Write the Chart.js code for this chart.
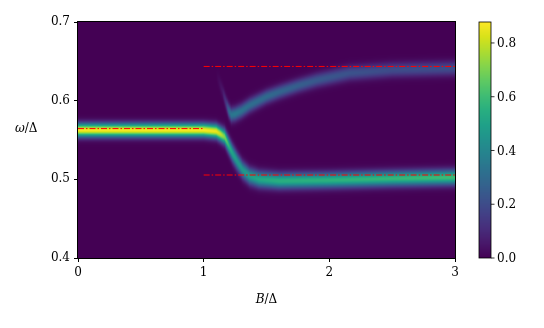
<!DOCTYPE html>
<html>
<head>
<meta charset="utf-8">
<script src="https://cdn.jsdelivr.net/npm/chart.js@4"></script>
<style>
  html, body { margin: 0; padding: 0; background: #fff; }
  #wrap { width: 544px; height: 328px; }
</style>
</head>
<body>
<div id="wrap"><canvas id="chart" width="544" height="328"></canvas></div>
<script>
// ridge of the lower (bright) branch: B/Delta, omega/Delta, peak height, width
const lowerB = [0, 1.0, 1.1, 1.13, 1.167, 1.206, 1.23, 1.27, 1.31, 1.365, 1.44, 1.6, 2.0, 2.5, 3.0]
const lowerW = [0.5625, 0.5625, 0.561, 0.558, 0.554, 0.541, 0.533, 0.522, 0.512, 0.504, 0.5, 0.498, 0.499, 0.501, 0.5025]
const lowerAmp = [0.87, 0.87, 0.85, 0.8, 0.7, 0.55, 0.5, 0.46, 0.46, 0.48, 0.52, 0.55, 0.56, 0.58, 0.6]
const lowerSig = [0.0058, 0.0058, 0.006, 0.0062, 0.0066, 0.0072, 0.0074, 0.0074, 0.0072, 0.007, 0.0068, 0.0066, 0.0065, 0.0065, 0.0065]

// ridge of the upper (faint) branch
const upperB = [1.1, 1.12, 1.15, 1.18, 1.2, 1.22, 1.25, 1.3, 1.365, 1.5, 1.6, 1.75, 1.9, 2.16, 2.5, 3.0]
const upperW = [0.632, 0.625, 0.612, 0.596, 0.587, 0.582, 0.583, 0.587, 0.594, 0.605, 0.611, 0.619, 0.626, 0.635, 0.639, 0.641]
const upperAmp = [0, 0.02, 0.05, 0.14, 0.28, 0.34, 0.35, 0.33, 0.31, 0.3, 0.28, 0.26, 0.24, 0.22, 0.2, 0.2]
const upperSig = [0.006, 0.006, 0.006, 0.006, 0.006, 0.006, 0.006, 0.006, 0.006, 0.0058, 0.0058, 0.0058, 0.006, 0.0062, 0.0062, 0.0062]

// red dash-dot reference levels
const refLeftB = [0, 1], refLeftW = [0.5645, 0.5645]
const refUpB = [1, 3], refUpW = [0.6435, 0.6435]
const refLowB = [1, 3], refLowW = [0.5055, 0.5055]

const xTicks = [0, 1, 2, 3]
const yTicks = [0.4, 0.5, 0.6, 0.7]
const cbTicks = [0.0, 0.2, 0.4, 0.6, 0.8]
const cbMax = 0.878

const viridis = ["#440154", "#48186a", "#472d7b", "#424086", "#3b528b", "#33638d", "#2c728e", "#26828e",
  "#21918c", "#1fa088", "#28ae80", "#3fbc73", "#5ec962", "#84d44b", "#addc30", "#d8e219", "#fde725"]
const vRGB = viridis.map(h => [1, 3, 5].map(i => parseInt(h.substr(i, 2), 16)))

function cmap(t) {
  t = Math.max(0, Math.min(1, t)) * (vRGB.length - 1)
  const i = Math.min(vRGB.length - 2, Math.floor(t))
  const f = t - i
  return vRGB[i].map((c, k) => c + (vRGB[i + 1][k] - c) * f)
}

// value of a ridge array at field b (between the read samples)
function at(bs, vs, b) {
  if (b <= bs[0]) return vs[0]
  for (let i = 1; i < bs.length; i++) {
    if (b <= bs[i]) {
      const f = (b - bs[i - 1]) / (bs[i] - bs[i - 1])
      return vs[i - 1] + (vs[i] - vs[i - 1]) * f
    }
  }
  return vs[vs.length - 1]
}

const FONT = "'DejaVu Serif', serif"

const heatmap = {
  id: "heatmap",
  beforeDatasetsDraw(chart) {
    const { ctx, chartArea: a, scales } = chart
    const w = Math.round(a.right - a.left), h = Math.round(a.bottom - a.top)
    const off = document.createElement("canvas")
    off.width = w; off.height = h
    const octx = off.getContext("2d")
    const img = octx.createImageData(w, h)
    for (let px = 0; px < w; px++) {
      const b = scales.x.getValueForPixel(a.left + px + 0.5)
      const lc = at(lowerB, lowerW, b), la = at(lowerB, lowerAmp, b), ls = at(lowerB, lowerSig, b)
      let uc = 0, ua = 0, us = 1
      if (b >= upperB[0]) {
        uc = at(upperB, upperW, b); ua = at(upperB, upperAmp, b); us = at(upperB, upperSig, b)
      }
      for (let py = 0; py < h; py++) {
        const om = scales.y.getValueForPixel(a.top + py + 0.5)
        let v = la * Math.exp(-0.5 * ((om - lc) / ls) ** 2)
        v += ua * Math.exp(-0.5 * ((om - uc) / us) ** 2)
        const c = cmap(v / cbMax)
        const k = (py * w + px) * 4
        img.data[k] = c[0]; img.data[k + 1] = c[1]; img.data[k + 2] = c[2]; img.data[k + 3] = 255
      }
    }
    octx.putImageData(img, 0, 0)
    ctx.drawImage(off, a.left, a.top)
  },
  afterDraw(chart) {
    const { ctx, chartArea: a } = chart
    ctx.save()
    // frame
    ctx.strokeStyle = "#000"
    ctx.lineWidth = 1
    ctx.strokeRect(a.left - 0.5, a.top - 0.5, a.right - a.left + 1, a.bottom - a.top + 1)
    // colorbar
    const cx = 479, cw = 12
    const span = a.bottom - a.top
    for (let i = 0; i < span; i++) {
      const c = cmap(1 - (i + 0.5) / span)
      ctx.fillStyle = `rgb(${c[0]},${c[1]},${c[2]})`
      ctx.fillRect(cx, a.top + i, cw, 1)
    }
    ctx.lineWidth = 0.8
    ctx.strokeRect(cx, a.top, cw, span)
    ctx.fillStyle = "#000"
    ctx.font = "12px " + FONT
    ctx.textBaseline = "middle"
    ctx.textAlign = "left"
    cbTicks.forEach(t => {
      const y = a.bottom - (t / cbMax) * span
      ctx.beginPath()
      ctx.moveTo(cx + cw, y)
      ctx.lineTo(cx + cw + 3.5, y)
      ctx.stroke()
      ctx.fillText(t.toFixed(1), cx + cw + 6, y + 1)
    })
    // axis titles
    ctx.font = "italic 12px " + FONT
    const bw = ctx.measureText("B").width
    ctx.font = "12px " + FONT
    const rw = ctx.measureText("/Δ").width
    const mx = (a.left + a.right) / 2 - (bw + rw) / 2
    ctx.font = "italic 12px " + FONT
    ctx.fillText("B", mx, 300)
    ctx.font = "12px " + FONT
    ctx.fillText("/Δ", mx + bw, 300)
    ctx.font = "italic 12px " + FONT
    const ow = ctx.measureText("ω").width
    ctx.fillText("ω", 15, 129)
    ctx.font = "12px " + FONT
    ctx.fillText("/Δ", 15 + ow, 129)
    ctx.restore()
  }
}

function refSet(bs, ws) {
  return {
    type: "line",
    data: bs.map((b, i) => ({ x: b, y: ws[i] })),
    borderColor: "#ff0000",
    borderWidth: 1,
    borderDash: [6, 2, 1.5, 2],
    pointRadius: 0,
    fill: false,
  }
}

const canvasRef = document.getElementById("chart")
const myChart = new Chart(canvasRef, {
  type: "scatter",
  data: {
    datasets: [refSet(refLeftB, refLeftW), refSet(refUpB, refUpW), refSet(refLowB, refLowW)],
  },
  options: {
    responsive: false,
    animation: false,
    layout: { padding: { left: 0, top: 22, right: 89, bottom: 0 } },
    plugins: { legend: { display: false }, tooltip: { enabled: false } },
    scales: {
      x: {
        type: "linear",
        min: 0,
        max: 3,
        afterFit: s => { s.height = 70 },
        afterBuildTicks: s => { s.ticks = xTicks.map(v => ({ value: v })) },
        ticks: { color: "#000", font: { family: FONT, size: 12 }, padding: 4, callback: v => String(v) },
        grid: { drawOnChartArea: false, tickLength: 4, color: "#000" },
        border: { color: "#000" },
      },
      y: {
        type: "linear",
        min: 0.4,
        max: 0.7,
        afterFit: s => { s.width = 78 },
        afterBuildTicks: s => { s.ticks = yTicks.map(v => ({ value: v })) },
        ticks: { color: "#000", font: { family: FONT, size: 12 }, padding: 4, callback: v => v.toFixed(1) },
        grid: { drawOnChartArea: false, tickLength: 4, color: "#000" },
        border: { color: "#000" },
      },
    },
  },
  plugins: [heatmap],
})
</script>
</body>
</html>
